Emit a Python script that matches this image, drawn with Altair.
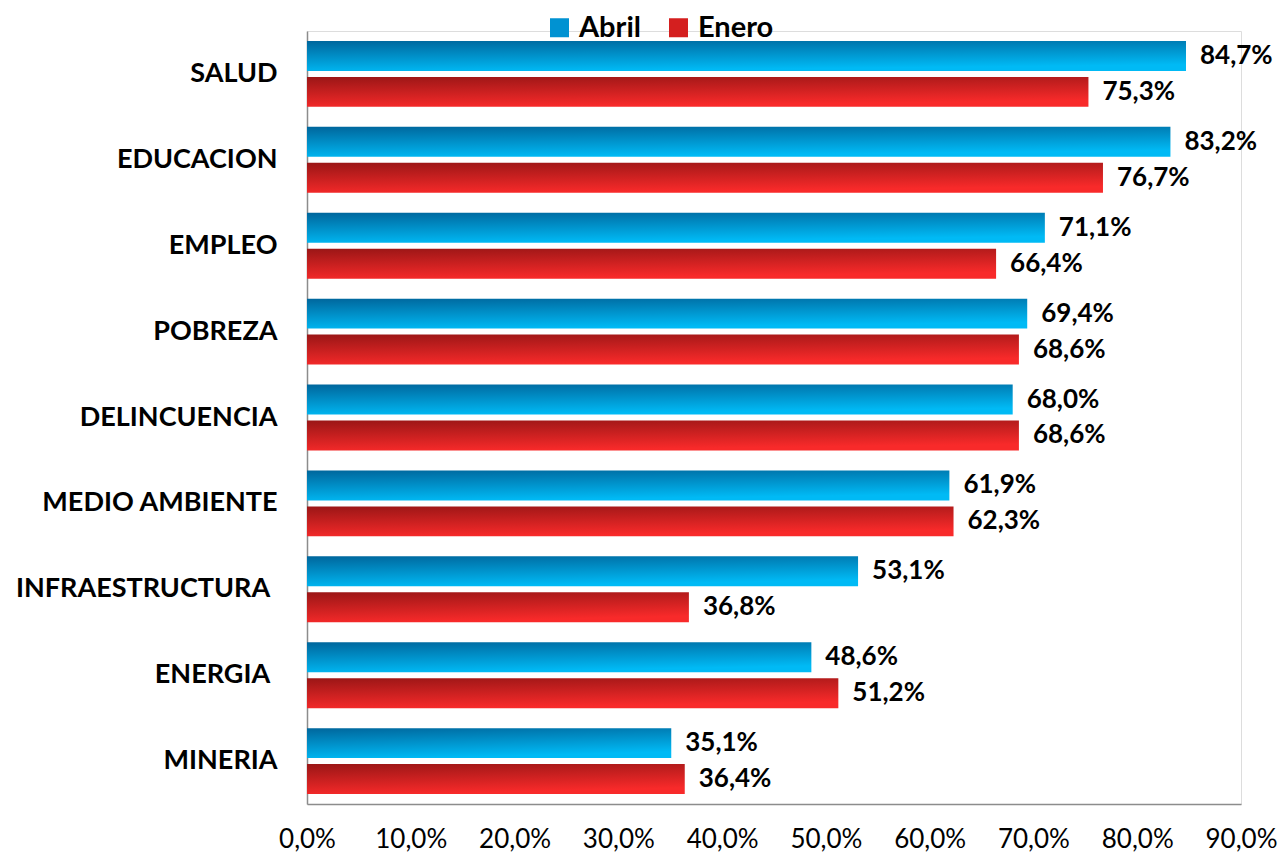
import altair as alt
import pandas as pd

categories = ["SALUD", "EDUCACION", "EMPLEO", "POBREZA", "DELINCUENCIA",
              "MEDIO AMBIENTE", "INFRAESTRUCTURA\u00a0\u200a\u200b", "ENERGIA\u00a0\u200a\u200b", "MINERIA"]
abril = [84.7, 83.2, 71.1, 69.4, 68.0, 61.9, 53.1, 48.6, 35.1]
enero = [75.3, 76.7, 66.4, 68.6, 68.6, 62.3, 36.8, 51.2, 36.4]
series = ["Abril", "Enero"]
ticks = [0, 10, 20, 30, 40, 50, 60, 70, 80, 90]

rows = []
for c, a, e in zip(categories, abril, enero):
    rows.append({"cat": c, "serie": "Abril", "v": a})
    rows.append({"cat": c, "serie": "Enero", "v": e})
df = pd.DataFrame(rows)
df["lbl"] = df["v"].map(lambda x: f"{x:.1f}".replace(".", ",") + "%")

FONT = "Lato"

blue_grad = alt.Gradient(gradient="linear", x1=0, y1=0, x2=0.3, y2=1,
                         stops=[alt.GradientStop(color="#00669c", offset=0),
                                alt.GradientStop(color="#00baf5", offset=1)])
red_grad = alt.Gradient(gradient="linear", x1=0, y1=0, x2=0.3, y2=1,
                        stops=[alt.GradientStop(color="#9a1616", offset=0),
                               alt.GradientStop(color="#f82a2a", offset=1)])

y_enc = alt.Y("cat:N", sort=categories,
              scale=alt.Scale(paddingInner=0.233, paddingOuter=0.116),
              axis=alt.Axis(title=None, ticks=False, domain=True, domainColor="#8c8c8c",
                            domainWidth=1.5, labelFont=FONT, labelFontSize=27,
                            labelFontWeight="bold", labelColor="#000000",
                            labelPadding=30, labelLimit=400))
yoff = alt.YOffset("serie:N", sort=series,
                   scale=alt.Scale(domain=series, paddingInner=0.167, paddingOuter=0))
x_enc = alt.X("v:Q", scale=alt.Scale(domain=[0, 90], nice=False),
              axis=alt.Axis(title=None, values=ticks, ticks=False, grid=False,
                            domainColor="#8c8c8c", domainWidth=1.5,
                            labelFont=FONT, labelFontSize=26, labelColor="#000000",
                            labelPadding=22, labelOverlap=False, labelBound=False,
                            labelFlush=False,
                            labelExpr="replace(format(datum.value, '.1f'), '.', ',') + '%'"))

base = alt.Chart(df)

bars_a = base.transform_filter(alt.datum.serie == "Abril").mark_bar(
    fill=blue_grad, stroke=None).encode(x=x_enc, y=y_enc, yOffset=yoff)
bars_e = base.transform_filter(alt.datum.serie == "Enero").mark_bar(
    fill=red_grad, stroke=None).encode(x=x_enc, y=y_enc, yOffset=yoff)

texts = base.mark_text(align="left", baseline="middle", dx=14, font=FONT,
                       fontSize=26, fontWeight="bold", color="#000000").encode(
    x=x_enc, y=y_enc, yOffset=yoff, text="lbl:N")

legend_layer = base.mark_square(size=0, opacity=0).encode(
    x=x_enc, y=y_enc, yOffset=yoff,
    color=alt.Color("serie:N", sort=series,
                    scale=alt.Scale(domain=series, range=["#0092d2", "#d41f1f"]),
                    legend=alt.Legend(title=None, orient="none", legendX=238, legendY=-18,
                                      direction="horizontal", symbolType="square",
                                      symbolSize=361, symbolOpacity=1, symbolStrokeWidth=0,
                                      labelFont=FONT, labelFontSize=29,
                                      labelFontWeight="bold", labelColor="#000000",
                                      labelOffset=5, columnPadding=23)))

chart = alt.layer(bars_a, bars_e, texts, legend_layer).properties(
    width=934, height=773,
    autosize=alt.AutoSizeParams(type="none"),
    padding={"left": 299, "top": 23, "right": 37, "bottom": 50},
).configure_view(stroke=None).configure(background="#ffffff")

chart.save("out.html", embed_options={"renderer": "svg", "actions": False})
